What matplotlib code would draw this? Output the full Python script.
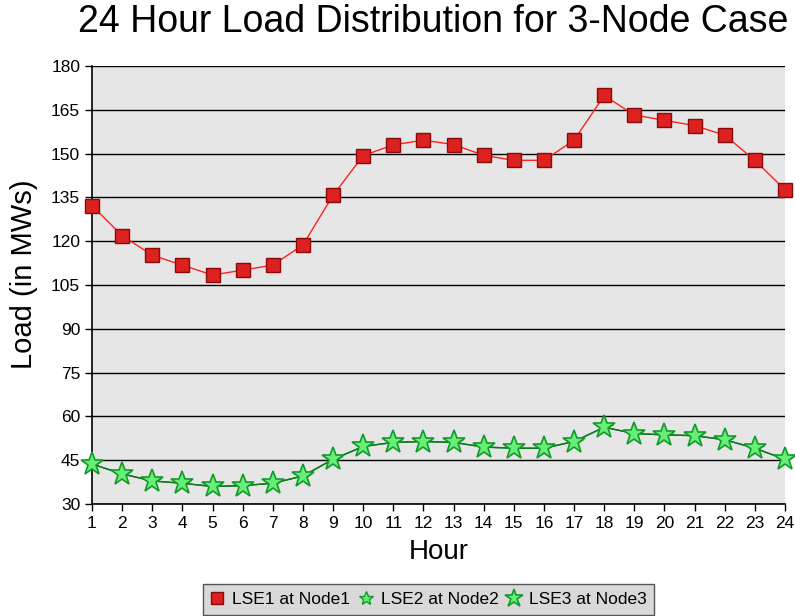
import matplotlib
matplotlib.use("Agg")
import matplotlib.pyplot as plt

hours = list(range(1, 25))
lse1 = [132.2, 121.9, 115.2, 111.8, 108.4, 110.1, 111.8, 118.7, 135.7, 149.3, 153.0, 154.6,
        153.1, 149.4, 147.7, 147.7, 154.6, 169.9, 163.2, 161.4, 159.6, 156.3, 147.7, 137.6]
lse2 = [43.7, 40.3, 37.9, 37.1, 36.0, 36.3, 37.1, 39.6, 45.3, 49.7, 51.1, 51.4,
        51.1, 49.5, 49.1, 49.1, 51.4, 56.3, 54.1, 53.7, 53.4, 52.0, 49.1, 45.3]
lse3 = list(lse2)
yticks = [30, 45, 60, 75, 90, 105, 120, 135, 150, 165, 180]

plt.rcParams['font.family'] = ['Liberation Sans', 'DejaVu Sans']

fig = plt.figure(figsize=(7.95, 6.16), dpi=100)
ax = fig.add_axes([92/795, 1-504/616, (785-92)/795, (504-66)/616])
ax.set_facecolor('#e6e6e6')

ax.plot(hours, lse1, color='#ff2020', lw=1, marker='s', ms=10.5,
        mfc='#dd2020', mec='#8a0a0a', mew=1, clip_on=False, zorder=5,
        label='LSE1 at Node1')
ax.plot(hours, lse2, color='#0a7a1a', lw=1, marker='*', ms=13,
        mfc='#66ee77', mec='#139a2a', mew=1, clip_on=False, zorder=6,
        label='LSE2 at Node2')
ax.plot(hours, lse3, color='#0a7a1a', lw=1, marker='*', ms=17,
        mfc='#66ee77', mec='#139a2a', mew=1.2, clip_on=False, zorder=7,
        label='LSE3 at Node3')

ax.set_xlim(1, 24)
ax.set_ylim(30, 180)
ax.set_xticks(hours)
ax.set_yticks(yticks)
ax.tick_params(direction='out', length=5, width=1, labelsize=12.5, colors='black')
ax.yaxis.grid(True, color='black', lw=1)
ax.set_axisbelow(True)
for s in ['top', 'right']:
    ax.spines[s].set_visible(False)
for s in ['left', 'bottom']:
    ax.spines[s].set_linewidth(1.2)

ax.set_xlabel('Hour', fontsize=20, labelpad=6)
ax.set_ylabel('Load (in MWs)', fontsize=21)
ax.yaxis.set_label_coords(-0.078, 0.525)
fig.text(0.545, 0.965, '24 Hour Load Distribution for 3-Node Case', fontsize=27,
         ha='center', va='center')

leg = fig.legend(loc='lower center', bbox_to_anchor=(0.539, 0.002), ncol=3,
                 fontsize=12.5, frameon=True, fancybox=False, handlelength=0.8,
                 handletextpad=0.45, columnspacing=0.5, borderpad=0.45,
                 borderaxespad=0.0, markerscale=0.8)
leg.get_frame().set_facecolor('#d9d9d9')
leg.get_frame().set_edgecolor('#555555')
leg.get_frame().set_alpha(1)
for h in leg.get_lines():
    h.set_linestyle('none')

fig.savefig('out.png', dpi=100)
